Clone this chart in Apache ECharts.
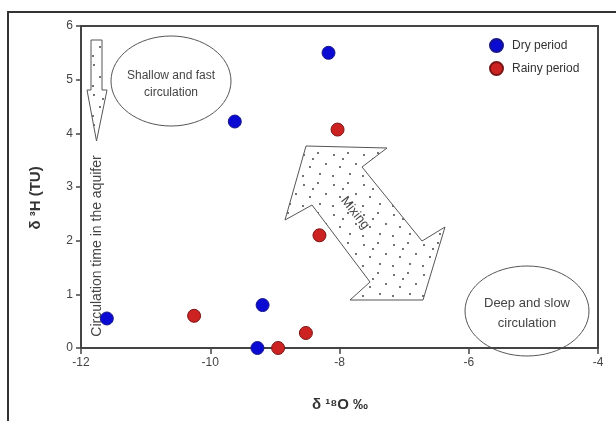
<!DOCTYPE html>
<html><head><meta charset="utf-8">
<script src="https://cdn.jsdelivr.net/npm/echarts@6/dist/echarts.min.js"></script>
<style>html,body{margin:0;padding:0;background:#fff}#c{width:616px;height:421px}</style>
</head><body><div id="c"></div>
<script>
var seriesNames = ['Dry period', 'Rainy period'];
var dryX = [-8.17, -9.62, -9.19, -11.6, -9.27];
var dryY = [5.5, 4.22, 0.8, 0.55, 0.0];
var rainyX = [-8.03, -8.31, -10.25, -8.52, -8.95];
var rainyY = [4.07, 2.1, 0.6, 0.28, 0.0];
var xTicks = [-12, -10, -8, -6, -4];
var yTicks = [0, 1, 2, 3, 4, 5, 6];

function pairs(xs, ys) { return xs.map(function (x, i) { return [x, ys[i]]; }); }

// dotted pattern
var pc = document.createElement('canvas');
pc.width = 30; pc.height = 30;
var pctx = pc.getContext('2d');
pctx.fillStyle = '#fff'; pctx.fillRect(0, 0, 30, 30);
pctx.fillStyle = '#333';
[[4,5],[18,3],[26,14],[10,17],[3,26],[20,24],[13,9]].forEach(function (p) {
  pctx.beginPath(); pctx.arc(p[0], p[1], 0.9, 0, Math.PI * 2); pctx.fill();
});
var dotted = { image: pc, repeat: 'repeat' };

var chart = echarts.init(document.getElementById('c'));
var txt = { fontFamily: 'Liberation Sans, Arial, sans-serif' };
chart.setOption({
  animation: false,
  grid: { left: 81, right: 18, top: 26, bottom: 73, show: true, borderColor: '#444', borderWidth: 2, backgroundColor: 'transparent' },
  legend: {
    orient: 'vertical', left: 484, top: 33, itemGap: 8, itemWidth: 13, itemHeight: 13,
    data: [{ name: seriesNames[0], icon: 'circle' }, { name: seriesNames[1], icon: 'circle' }],
    textStyle: { fontSize: 12, color: '#333', fontFamily: txt.fontFamily, padding: [0, 0, 0, 4] }
  },
  xAxis: {
    type: 'value', min: xTicks[0], max: xTicks[xTicks.length - 1], interval: 2,
    splitLine: { show: false },
    axisLine: { show: true, lineStyle: { color: '#444', width: 2 } },
    axisTick: { show: true, length: 6, lineStyle: { color: '#444', width: 1.5 } },
    axisLabel: { color: '#444', fontSize: 12, margin: 9, fontFamily: txt.fontFamily }
  },
  yAxis: {
    type: 'value', min: yTicks[0], max: yTicks[yTicks.length - 1], interval: 1,
    splitLine: { show: false },
    axisLine: { show: true, lineStyle: { color: '#444', width: 2 } },
    axisTick: { show: true, length: 5, lineStyle: { color: '#444', width: 1.5 } },
    axisLabel: { color: '#444', fontSize: 12, margin: 8, fontFamily: txt.fontFamily }
  },
  series: [
    { name: seriesNames[0], type: 'scatter', symbolSize: 13, data: pairs(dryX, dryY), z: 5,
      itemStyle: { color: '#0a0ad2', borderColor: '#16168a', borderWidth: 1, opacity: 1 } },
    { name: seriesNames[1], type: 'scatter', symbolSize: 13, data: pairs(rainyX, rainyY), z: 5,
      itemStyle: { color: '#cc2222', borderColor: '#7a1515', borderWidth: 1, opacity: 1 } }
  ],
  graphic: [
    // outer frame
    { type: 'polyline', shape: { points: [[8, 421], [8, 12], [616, 12]] }, style: { stroke: '#333', lineWidth: 2, fill: null } },
    // down arrow
    { type: 'polygon', shape: { points: [[91, 40], [102, 40], [102, 90], [107, 90], [96.5, 141], [87, 90], [91, 90]] },
      style: { fill: dotted, stroke: '#555', lineWidth: 1 } },
    { type: 'text', x: 97, y: 246, rotation: Math.PI / 2,
      style: { text: 'Circulation time in the aquifer', fontSize: 14, fill: '#444', align: 'center', verticalAlign: 'middle', fontFamily: txt.fontFamily } },
    // ellipses
    { type: 'ellipse', shape: { cx: 171, cy: 81, rx: 60, ry: 45 }, style: { fill: '#fff', stroke: '#555', lineWidth: 1 } },
    { type: 'text', x: 171, y: 84, style: { text: 'Shallow and fast\ncirculation', fontSize: 12, lineHeight: 17, fill: '#444', align: 'center', verticalAlign: 'middle', fontFamily: txt.fontFamily } },
    { type: 'ellipse', shape: { cx: 527, cy: 311, rx: 62, ry: 45 }, style: { fill: 'rgba(255,255,255,0)', stroke: '#555', lineWidth: 1 } },
    { type: 'text', x: 527, y: 313, style: { text: 'Deep and slow\ncirculation', fontSize: 13, lineHeight: 20, fill: '#444', align: 'center', verticalAlign: 'middle', fontFamily: txt.fontFamily } },
    // mixing double arrow
    { type: 'polygon', shape: { points: [[306, 146], [387, 148], [362, 167], [422, 241], [445, 227], [423, 300], [350, 300], [370, 282], [312, 205], [285, 220]] },
      style: { fill: dotted, stroke: '#555', lineWidth: 1 } },
    { type: 'text', x: 355, y: 213, rotation: -0.9,
      style: { text: 'Mixing', fontSize: 13, fill: '#444', align: 'center', verticalAlign: 'middle', fontFamily: txt.fontFamily } },
    // axis names
    { type: 'text', x: 36, y: 198, rotation: Math.PI / 2,
      style: { text: 'δ ³H (TU)', fontSize: 15, fontWeight: 'bold', fill: '#333', align: 'center', verticalAlign: 'middle', fontFamily: txt.fontFamily } },
    { type: 'text', x: 340, y: 405,
      style: { text: 'δ ¹⁸O ‰', fontSize: 15, fontWeight: 'bold', fill: '#333', align: 'center', verticalAlign: 'middle', fontFamily: txt.fontFamily } }
  ]
});
</script></body></html>
